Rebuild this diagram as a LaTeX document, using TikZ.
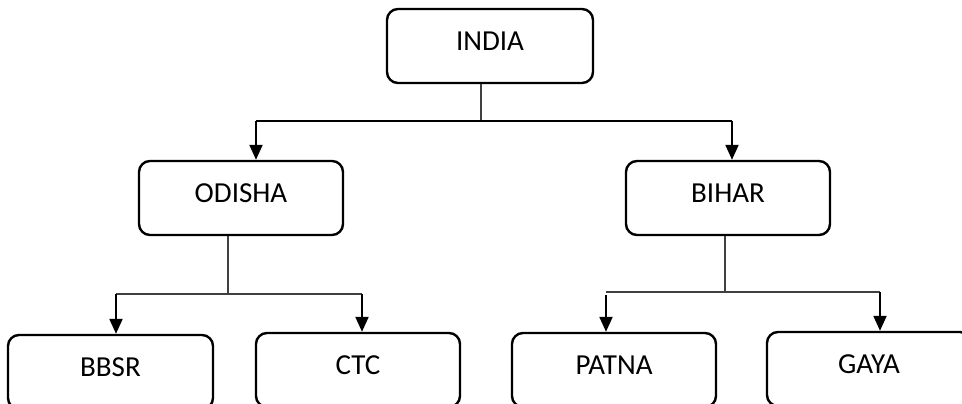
\documentclass[tikz,border=0pt]{standalone}
\usepackage{fontspec}
\setmainfont{Carlito}
\usetikzlibrary{arrows.meta}
\begin{document}
\begin{tikzpicture}[x=1pt,y=-1pt,
  box/.style={draw=black, line width=2.4pt, rounded corners=11pt,
    minimum width=204pt, minimum height=74pt, inner sep=0pt,
    font=\fontsize{29}{31}\selectfont, text height=18pt, text depth=9pt},
  stem/.style={draw=black!75, line width=1.2pt},
  bar/.style={draw=black, line width=1.4pt},
  arr/.style={draw=black, line width=2.2pt, -{Triangle[width=13pt,length=15pt]}}]
\clip (0,0) rectangle (962,404);
\fill[white] (0,0) rectangle (962,404);
\node[box, minimum width=206pt] (INDIA) at (490,46) {INDIA};
\node[box] (ODISHA) at (241,198) {ODISHA};
\node[box] (BIHAR) at (728,198) {BIHAR};
\node[box, minimum width=205pt] (BBSR) at (110.5,372) {BBSR};
\node[box] (CTC) at (358,370) {CTC};
\node[box] (PATNA) at (614,370) {PATNA};
\node[box] (GAYA) at (869,369) {GAYA};
% top level
\coordinate (t0) at (481,121);
\coordinate (tl) at (256,121);
\coordinate (tr) at (732,121);
\draw[stem] (INDIA.south -| t0) -- (t0);
\draw[bar] (tl) -- (tr);
\draw[arr] (tl) -- (tl |- ODISHA.north);
\draw[arr] (tr) -- (tr |- BIHAR.north);
% odisha level
\coordinate (o0) at (228,294);
\coordinate (ol) at (116,294);
\coordinate (or) at (362,294);
\draw[stem] (ODISHA.south -| o0) -- (o0);
\draw[stem] (ol) -- (or);
\draw[arr] (ol) -- (ol |- BBSR.north);
\draw[arr] (or) -- (or |- CTC.north);
% bihar level
\coordinate (b0) at (725,292);
\coordinate (bl) at (606,292);
\coordinate (br) at (880,292);
\coordinate (bl2) at (606,295);
\draw[stem] (BIHAR.south -| b0) -- (b0);
\draw[stem] (bl) -- (br);
\draw[arr] (bl2) -- (bl2 |- PATNA.north);
\draw[arr] (br) -- (br |- GAYA.north);
\end{tikzpicture}
\end{document}
